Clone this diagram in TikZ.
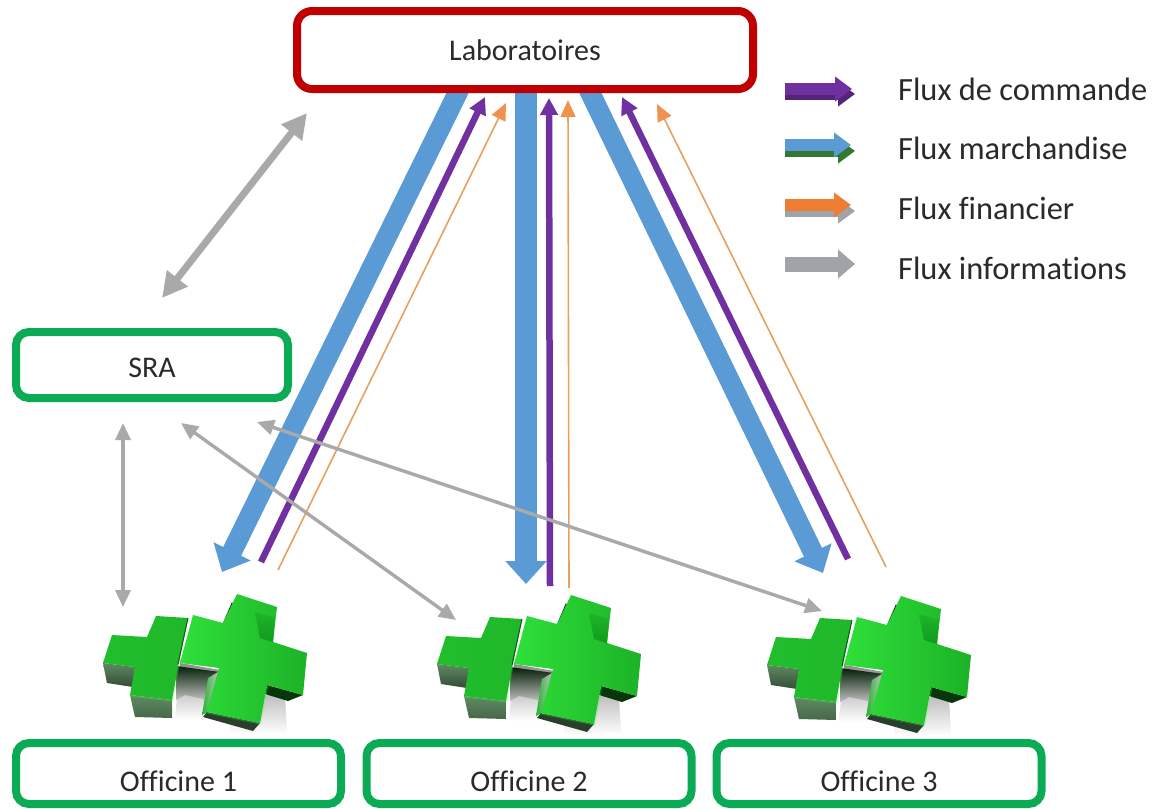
\documentclass[tikz,border=0pt]{standalone}
\usepackage{fontspec}
\setmainfont[Ligatures=NoCommon]{Carlito}
\usetikzlibrary{arrows.meta,calc}
\definecolor{labred}{HTML}{C00000}
\definecolor{boxgreen}{HTML}{0BAA55}
\definecolor{fblue}{HTML}{5B9BD5}
\definecolor{fpurple}{HTML}{7030A0}
\definecolor{forange}{HTML}{ED7D31}
\definecolor{fthin}{HTML}{E8A060}
\definecolor{fhead}{HTML}{F0924F}
\definecolor{fgray}{HTML}{A9A9A9}
\definecolor{flegray}{HTML}{A0A4A8}
\definecolor{crosstop}{HTML}{1FB82A}
\definecolor{crosslit}{HTML}{2FE03A}
\definecolor{crossdark}{HTML}{119A1E}
\definecolor{crossside}{HTML}{5E8A62}
\definecolor{inktext}{HTML}{2A2A2A}
\tikzset{
  x=1pt,y=-1pt,
  labbox/.style={draw=labred,line width=8pt,rounded corners=15pt,fill=white,inner sep=0pt,font=\fontsize{30}{36}\selectfont,text=inktext},
  greenbox/.style={draw=boxgreen,line width=8pt,rounded corners=13pt,fill=white,inner sep=0pt,font=\fontsize{30}{36}\selectfont,text=inktext},
  legendtext/.style={anchor=west,inner sep=0pt,font=\fontsize{32.4}{38}\selectfont,text=inktext},
  bigblue/.style={draw=fblue,line width=#1,-{Triangle[width=40pt,length=23pt]}},
  thinpurple/.style={draw=fpurple,line width=6.5pt,-{Triangle[width=17pt,length=17pt]}},
  thinorange/.style={draw=fthin,line width=1.6pt,-{Triangle[width=15pt,length=17pt,color=fhead]}},
  graybig/.style={draw=fgray,line width=7pt,{Triangle[width=25pt,length=25pt]}-{Triangle[width=25pt,length=25pt]}},
  graythin/.style={draw=fgray,line width=3.4pt,{Triangle[width=15pt,length=17pt]}-{Triangle[width=15pt,length=17pt]}},
  legarrow/.style={draw=#1,line width=12pt,-{Triangle[width=24pt,length=17pt]}},
  leggray/.style={draw=flegray,line width=15pt,-{Triangle[width=28pt,length=17pt]}},
  pics/greencross/.style={code={
    % ground shadow
    \shade[top color=black!25,bottom color=white] (150,135) -- (205,135) -- (207,172) -- (150,174) -- cycle;
    \shade[top color=black!45,bottom color=white] (100,103) -- (140,110) -- (128,160) -- (95,160) -- cycle;
    % walls
    \shade[top color=crossside,bottom color=black!45!crossside] (23,103) -- (55,107) -- (53,127) -- (27,123) -- cycle;
    \shade[top color=crossside,bottom color=black!25!crossside] (50,135) -- (92,140) -- (92,158) -- (55,157) -- cycle;
    \shade[top color=black!80!crossdark,bottom color=black!25] (96,106) -- (140,112) -- (128,140) -- (105,135) -- (96,140) -- cycle;
    \shade[left color=crosstop,right color=black!25] (128,118) -- (138,112) -- (128,152) -- (122,155) -- cycle;
    \fill[black!55!crossside] (127,152) -- (180,163) -- (173,171) -- (123,157) -- cycle;
    \fill[black!65!crossdark] (187,125) -- (223,135) -- (208,141) -- (185,134) -- cycle;
    \fill[black!70!crossdark] (143,63) -- (152,42) -- (165,70) -- cycle;
    % glow
    \draw[green!70,line width=3pt,opacity=.25,line join=round] (50,135) -- (92,140) -- (98,105);
    \draw[green!70,line width=3pt,opacity=.25,line join=round] (127,152) -- (180,163) -- (187,125);
    % left cross
    \shade[left color=crosstop!85!crosslit,right color=crosstop] (32,75) -- (67,77) -- (76,56) -- (108,58) -- (98,107) -- (92,140) -- (50,135) -- (55,107) -- (23,103) -- cycle;
    \draw[crossdark!60!black,line width=1pt] (108,58) -- (98,104);
    % right cross
    \shade[left color=crosslit,right color=crosstop!80!crossdark] (113,55) -- (143,63) -- (157,34) -- (197,47) -- (193,82) -- (227,93) -- (223,135) -- (187,125) -- (180,163) -- (127,152) -- (139,108) -- (100,103) -- cycle;
    \shade[top color=crosstop!90!crossdark,bottom color=crossdark] (175,52) -- (195,58) -- (193,82) -- (180,78) -- cycle;
  }}
}
\begin{document}
\begin{tikzpicture}
\useasboundingbox (0,0) rectangle (1163,809);
\fill[white] (0,0) rectangle (1163,809);

% crosses
\pic at (80,560) {greencross};
\pic at (414,561) {greencross};
\pic at (744,562) {greencross};

% free ends of the flux arrows
\coordinate (b1s) at (462,84);  \coordinate (b1e) at (222,572);
\coordinate (b2s) at (526,84);  \coordinate (b2e) at (526,584);
\coordinate (b3s) at (586,84);  \coordinate (b3e) at (823,573);
\coordinate (p1s) at (261,562); \coordinate (p1e) at (485,97);
\coordinate (p2s) at (550,586); \coordinate (p2e) at (549,98);
\coordinate (p3s) at (848,559); \coordinate (p3e) at (622,97);
\coordinate (o1s) at (278,570); \coordinate (o1e) at (506,103);
\coordinate (o2s) at (569,588); \coordinate (o2e) at (568,100);
\coordinate (o3s) at (886,567); \coordinate (o3e) at (657,104);
\coordinate (g1a) at (162,298); \coordinate (g1b) at (307,113);
\coordinate (g2a) at (123,423); \coordinate (g2b) at (123,607);
\coordinate (g3a) at (181,423); \coordinate (g3b) at (456,620);
\coordinate (g4a) at (257,422); \coordinate (g4b) at (822,611);

% blue
\draw[bigblue=20pt] (b1s) -- (b1e);
\draw[bigblue=22pt] (b2s) -- (b2e);
\draw[bigblue=20pt] (b3s) -- (b3e);
% purple
\draw[thinpurple] (p1s) -- (p1e);
\draw[thinpurple] (p2s) -- (p2e);
\draw[thinpurple] (p3s) -- (p3e);
% orange
\draw[thinorange] (o1s) -- (o1e);
\draw[thinorange] (o2s) -- (o2e);
\draw[thinorange] (o3s) -- (o3e);
% gray
\draw[graybig] (g1a) -- (g1b);
\draw[graythin] (g2a) -- (g2b);
\draw[graythin] (g3a) -- (g3b);
\draw[graythin] (g4a) -- (g4b);

% boxes
\node[labbox,minimum width=456pt,minimum height=78pt] (lab) at (525,50) {Laboratoires};
\node[greenbox,minimum width=272pt,minimum height=66pt,text height=25pt,text depth=0pt] (sra) at (152,365) {SRA};
\node[greenbox,minimum width=325pt,minimum height=61pt,text height=35pt,text depth=0pt] (off1) at (178.5,773.5) {Officine 1};
\node[greenbox,minimum width=325pt,minimum height=61pt,text height=36pt,text depth=0pt] (off2) at (529,773.5) {Officine 2};
\node[greenbox,minimum width=325pt,minimum height=61pt,text height=36pt,text depth=0pt] (off3) at (879,773.5) {Officine 3};

% legend
\coordinate (l1a) at (785,89);  \coordinate (l1b) at (852,89);
\coordinate (l2a) at (785,145); \coordinate (l2b) at (851,145);
\coordinate (l3a) at (785,205); \coordinate (l3b) at (851,205);
\coordinate (l4a) at (785,264); \coordinate (l4b) at (855,264);
\draw[legarrow=fpurple!75!black] ($(l1a)+(0,5)$) -- ($(l1b)+(3,5)$);
\draw[legarrow=fpurple] (l1a) -- (l1b);
\draw[legarrow=black!55!green!60!gray] ($(l2a)+(0,6)$) -- ($(l2b)+(4,6)$);
\draw[legarrow=fblue] (l2a) -- (l2b);
\draw[legarrow=flegray] ($(l3a)+(0,6)$) -- ($(l3b)+(4,6)$);
\draw[legarrow=forange] (l3a) -- (l3b);
\draw[leggray] (l4a) -- (l4b);
\node[legendtext] (t1) at (898,89) {Flux de commande};
\node[legendtext] (t2) at (898,148) {Flux marchandise};
\node[legendtext] (t3) at (898,208) {Flux financier};
\node[legendtext] (t4) at (898,268) {Flux informations};
\end{tikzpicture}
\end{document}
